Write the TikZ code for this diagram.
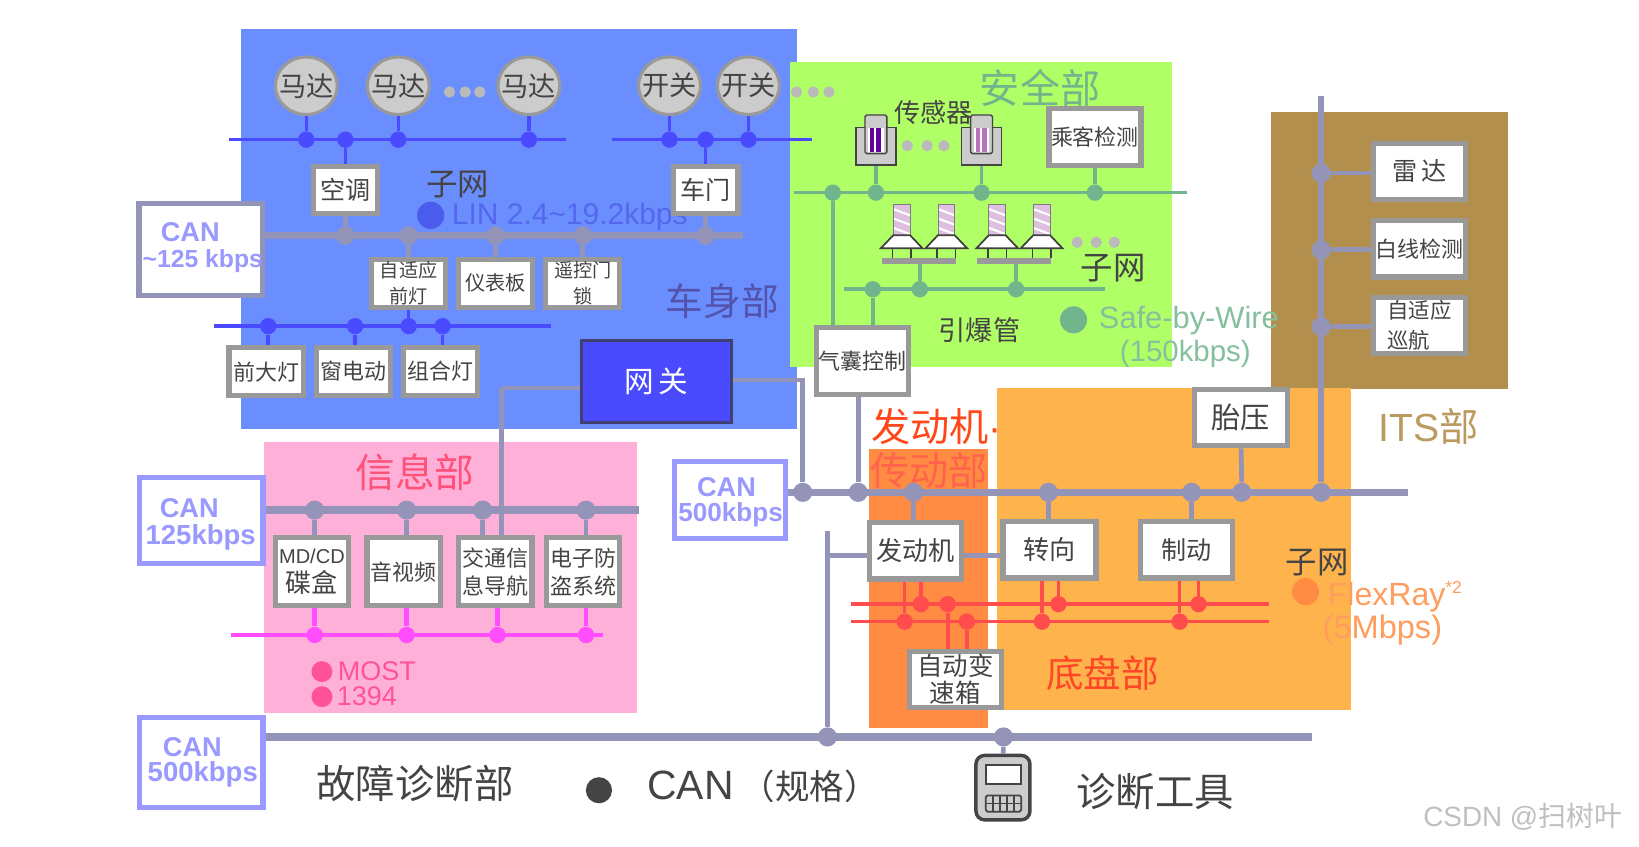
\documentclass[tikz,border=0pt]{standalone}
\usepackage{fontspec}
\setmainfont{Noto Sans CJK SC}
\newfontfamily\latfont{Liberation Sans}
\usetikzlibrary{shapes.geometric}
\definecolor{bodyblue}{HTML}{6B8EFF}
\definecolor{safegreen}{HTML}{B0FF66}
\definecolor{itsbrown}{HTML}{B38F4D}
\definecolor{chassisor}{HTML}{FFB34D}
\definecolor{engineor}{HTML}{FF8C42}
\definecolor{infopink}{HTML}{FFB0D8}
\definecolor{canline}{HTML}{9494B8}
\definecolor{canblue}{HTML}{9999FF}
\definecolor{linline}{HTML}{4A4AFF}
\definecolor{greenline}{HTML}{70B58C}
\definecolor{redline}{HTML}{FF4D4D}
\definecolor{pinkline}{HTML}{FF4DFF}
\definecolor{boxgray}{HTML}{999999}
\definecolor{txtgray}{HTML}{444444}
\newcommand\fsz[2]{\fontsize{#1pt}{#2pt}\selectfont}
\newcommand\narrowtxt[1]{\makebox[0pt]{#1}}
\tikzset{
  zone/.style={fill=#1, draw=none},
  lbl/.style={inner sep=0pt, align=center, text=txtgray},
  box/.style 2 args={draw=boxgray, fill=white, line width=3pt, inner sep=0pt, align=center, text=txtgray,
    minimum width=#1*0.6pt, minimum height=#2*0.6pt},
  canbox/.style 2 args={draw=canline, fill=white, line width=3pt, minimum width=#1*0.6pt, minimum height=#2*0.6pt, inner sep=0pt},
  roundnode/.style={ellipse, draw=boxgray, fill=black!20, line width=1.8pt, minimum width=35.5pt, minimum height=33pt, inner sep=0pt, text=txtgray, font=\fsz{15.6}{18}},
  dotnode/.style={circle, fill=#1, inner sep=0pt, minimum size=9.4pt},
  pausedot/.style={circle, fill=black!27, inner sep=0pt, minimum size=6.5pt},
  canbus/.style={draw=canline, line width=4.2pt},
  canstub/.style={draw=canline, line width=2.7pt},
  linbus/.style={draw=linline, line width=2pt},
  greenbus/.style={draw=greenline, line width=2pt},
  redbus/.style={draw=redline, line width=2pt},
  pinkbus/.style={draw=pinkline, line width=2.6pt},
  cantxt/.style={inner sep=0pt, text=canblue, font=\latfont\bfseries\fsz{15.6}{18}},
  keytxt/.style={inner sep=0pt, anchor=west, font=\latfont\fsz{#1}{#1}},
}
\begin{document}
\begin{tikzpicture}[x=0.6pt,y=-0.6pt]
\useasboundingbox (0,0) rectangle (1568,810.3);
% zones
\fill[zone=bodyblue] (231,28) rectangle (762,410);
\fill[zone=safegreen] (756,59) rectangle (1121,351);
\fill[zone=itsbrown] (1216,107) rectangle (1443,372);
\fill[zone=chassisor] (954,371) rectangle (1292,679);
\fill[zone=engineor] (831,430) rectangle (945,696);
\fill[zone=infopink] (252.5,422.5) rectangle (609,682);

% zone labels
\node[lbl, text=black!0!blue!35!gray, font=\fsz{21.6}{24}] (lblbody) at (691,288) {车身部};
\node[lbl, text=greenline, font=\fsz{23}{25}] (lblsafe) at (995,84) {安全部};
\node[lbl, text=itsbrown!90!white, font=\latfont\fsz{22.5}{24}] (lblits) at (1367,408) {ITS\fontspec{Noto Sans CJK SC}部};
\node[lbl, anchor=west, text=red!60!orange!90!white, font=\fsz{22.5}{25}] (lblengine) at (833,408) {发动机{\latfont·}};
\node[lbl, text=red!75!orange!70!white, font=\fsz{22.5}{25}] (lbldrive) at (889,450) {传动部};
\node[lbl, text=red!70!orange!85!white, font=\fsz{21.6}{24}] (lblchassis) at (1055,644) {底盘部};
\node[lbl, text=pinkline!30!red!75!white, font=\fsz{22.8}{25}] (lblinfo) at (397,452) {信息部};
\node[lbl, font=\fsz{18}{20}] (lblsuba) at (438,177) {子网};
\node[lbl, font=\fsz{18.6}{20}] (lblsubb) at (1065,256.5) {子网};
\node[lbl, font=\fsz{18}{20}] (lblsubc) at (1260,538) {子网};
\node[lbl, font=\fsz{15.6}{18}] (lblsquib) at (937,316) {引爆管};
\node[lbl, font=\fsz{15}{18}] (lblsensor) at (893,108) {传感器};

% legend dots and texts
\node[dotnode=blue!40!bodyblue!85!gray, minimum size=15.6pt] (dotlin) at (412,206) {};
\node[keytxt=17.2, text=blue!30!bodyblue!85!gray] (txtlin) at (432,207) {LIN 2.4\textasciitilde19.2kbps};
\node[dotnode=greenline, minimum size=15.6pt] (dotsafe) at (1027,306) {};
\node[keytxt=17.7, text=greenline!85!white] (txtsafe) at (1051,307) {Safe-by-Wire};
\node[keytxt=16.9, text=greenline!85!white] (txtrate) at (1071,339) {(150kbps)};
\node[dotnode=engineor, minimum size=15.6pt] (dotflex) at (1249,566) {};
\node[keytxt=18.4, text=engineor!85!white] (txtflex) at (1270,571) {FlexRay\raisebox{7pt}{\fsz{10}{10}*2}};
\node[keytxt=18.7, text=engineor!85!white] (txtmbps) at (1265,603) {(5Mbps)};
\node[dotnode=red!50!pinkline!80!white, minimum size=12pt] (dotmost) at (308,642.5) {};
\node[keytxt=15.5, text=red!50!pinkline!80!white] (txtmost) at (323,642.5) {MOST};
\node[dotnode=red!50!pinkline!80!white, minimum size=12pt] (dotieee) at (308,666.5) {};
\node[keytxt=15.5, text=red!50!pinkline!80!white] (txtieee) at (322,666.5) {1394};

% body zone: motors and switches
\node[roundnode] (mota) at (293,82) {\narrowtxt{马达}};
\node[roundnode] (motb) at (381,82) {\narrowtxt{马达}};
\node[roundnode] (motc) at (506,82) {\narrowtxt{马达}};
\node[roundnode] (swa) at (640.5,82) {\narrowtxt{开关}};
\node[roundnode] (swb) at (716,82) {\narrowtxt{开关}};
\foreach \n/\x in {pa1/430,pa2/445,pa3/459,pb1/762,pb2/778,pb3/793}
  \node[pausedot] (\n) at (\x,88) {};

\coordinate (lina) at (219,133.6);
\coordinate (linb) at (541,133.6);
\coordinate (linc) at (585,133.6);
\coordinate (lind) at (777,133.6);
\draw[linbus] (lina) -- (linb);
\draw[linbus] (linc) -- (lind);
\foreach \n/\x in {ja1/293,ja2/330.5,ja3/381,ja4/506,jb1/640.5,jb2/675,jb3/716}
  \node[dotnode=linline] (\n) at (\x,133.6) {};
\foreach \a/\b in {mota/ja1,motb/ja3,motc/ja4,swa/jb1,swb/jb3}
  \draw[linbus] (\a) -- (\b);

\node[box={61}{45}, font=\fsz{14.4}{16}] (aircon) at (330.5,182) {空调};
\node[box={62}{45}, font=\fsz{14.4}{16}] (door) at (675,182) {车门};
\draw[linbus] (ja2) -- (aircon);
\draw[linbus] (jb2) -- (door);

% body zone: CAN
\node[canbox={118}{88}] (canbody) at (192,238.5) {};
\node[cantxt] (cantxta) at (182,222) {CAN};
\node[cantxt, font=\latfont\bfseries\fsz{14.2}{16}] (cantxtb) at (194,250) {\textasciitilde125 kbps};
\coordinate (bodyend) at (711,225.4);
\draw[canbus] (canbody.east |- bodyend) -- (bodyend);
\foreach \n/\x in {jc1/330.5,jc2/391,jc3/474,jc4/557.5,jc5/675}
  \node[dotnode=canline, minimum size=10.6pt] (\n) at (\x,225.4) {};
\node[box={71}{46}, font=\fsz{11}{15}] (lamp) at (391,271) {自适应\\前灯};
\node[box={71}{46}, font=\fsz{11.6}{15}] (panel) at (474,271) {仪表板};
\node[box={71}{46}, font=\fsz{11}{15}] (lock) at (557.5,271) {遥控门\\锁};
\foreach \a/\b in {aircon/jc1,door/jc5,lamp/jc2,panel/jc3,lock/jc4}
  \draw[canstub] (\a) -- (\b);

\coordinate (line) at (205,312);
\coordinate (linf) at (527,312);
\draw[linbus] (line) -- (linf);
\foreach \n/\x in {jd1/256.6,jd2/339.7,jd3/391,jd4/423.4}
  \node[dotnode=linline] (\n) at (\x,312) {};
\node[box={71}{46}, font=\fsz{12.6}{15}] (headl) at (254.5,355.5) {前大灯};
\node[box={71}{46}, font=\fsz{12.6}{15}] (window) at (338,355.5) {窗电动};
\node[box={71}{46}, font=\fsz{12.6}{15}] (combo) at (421.5,355.5) {组合灯};
\draw[linbus] (lamp) -- (jd3);
\draw[linbus] (jd1) -- (headl.north -| jd1);
\draw[linbus] (jd2) -- (window.north -| jd2);
\draw[linbus] (jd4) -- (combo.north -| jd4);

% safety zone
\coordinate (grna) at (760,184.3);
\coordinate (grnb) at (1135.6,184.3);
\coordinate (grnc) at (807.6,276.7);
\coordinate (grnd) at (1056.7,276.7);
\draw[greenbus] (grna) -- (grnb);
\draw[greenbus] (grnc) -- (grnd);
\foreach \n/\x in {jg1/796.7,jg2/838,jg3/939,jg4/1047.5}
  \node[dotnode=greenline] (\n) at (\x,184.3) {};
\foreach \n/\x in {jh1/835,jh2/880,jh3/972}
  \node[dotnode=greenline] (\n) at (\x,276.7) {};
\node[box={88}{54}, font=\fsz{12.6}{15}] (occup) at (1047.5,131) {乘客检测};
\draw[greenbus] (occup) -- (jg4);
% sensors
\node[draw=txtgray, fill=black!20, line width=1pt, minimum width=23pt, minimum height=21.5pt, inner sep=0pt] (sensa) at (838,140) {};
\node[draw=txtgray, fill=black!20, line width=1pt, minimum width=23pt, minimum height=21.5pt, inner sep=0pt] (sensb) at (939,140) {};
\draw[greenbus] (sensa) -- (jg2);
\draw[greenbus] (sensb) -- (jg3);
\foreach \sx/\pur in {838/violet!75!blue,939/violet!55!white}{
  \draw[txtgray, fill=black!20, line width=0.8pt, rounded corners=1pt] (\sx-10.5,110) rectangle (\sx+10.5,147);
  \fill[white] (\sx-7.5,122.5) rectangle (\sx+7.5,145.5);
  \fill[\pur] (\sx-5.5,122.5) rectangle (\sx+5,145.5);
  \fill[white] (\sx-1.5,122.5) rectangle (\sx+0.5,145.5);
}
\foreach \n/\x in {pc1/868,pc2/887,pc3/903}
  \node[pausedot] (\n) at (\x,139.4) {};
% squibs
\foreach \sx in {862.6,905.3,954,996.5}{
  \fill[violet!25!white] (\sx-8,196) rectangle (\sx+8,225);
  \foreach \k in {0,1,2}
    \draw[white, line width=1.2pt] (\sx-8,200+\k*9) -- (\sx+8,206+\k*9);
  \draw[txtgray!70, line width=0.5pt] (\sx-8,196) rectangle (\sx+8,225);
  \draw[black!75, fill=white, line width=1pt] (\sx-8,225) -- (\sx+8,225) -- (\sx+20,237.6) -- (\sx-20,237.6) -- cycle;
  \draw[black!75, line width=0.8pt] (\sx-9,237.6) -- (\sx-9,247) (\sx+9,237.6) -- (\sx+9,247);
}
\node[fill=boxgray, inner sep=0pt, minimum width=42.4pt, minimum height=3.4pt] (bara) at (879,249.5) {};
\node[fill=boxgray, inner sep=0pt, minimum width=42.4pt, minimum height=3.4pt] (barb) at (970,249.5) {};
\draw[greenbus] (bara.south -| jh2) -- (jh2);
\draw[greenbus] (barb.south -| jh3) -- (jh3);
\foreach \n/\x in {pd1/1030.5,pd2/1048.8,pd3/1066}
  \node[pausedot] (\n) at (\x,231.8) {};
\node[box={88}{64}, font=\fsz{12.6}{15}] (airbag) at (825,345.5) {气囊控制};
\draw[greenbus] (jg1) -- (airbag.north -| jg1);
\draw[greenbus] (jh1) -- (airbag.north -| jh1);

% main CAN 500k
\node[canbox={106}{74}, draw=canblue] (canmain) at (698.5,478.5) {};
\node[cantxt] (cantxtc) at (695,466) {CAN};
\node[cantxt, font=\latfont\bfseries\fsz{15}{17}] (cantxtd) at (699,492) {500kbps};
\coordinate (mainend) at (1347,471);
\draw[canbus] (canmain.east |- mainend) -- (mainend);
\foreach \n/\x in {jm1/768,jm2/821,jm3/874,jm4/1003,jm5/1140,jm6/1188,jm7/1264}
  \node[dotnode=canline, minimum size=11pt] (\n) at (\x,471) {};
\node[box={89}{54}, font=\fsz{16.8}{18}] (tire) at (1187,399.5) {胎压};
\draw[canstub] (tire) -- (jm6);
\draw[canstub] (airbag.south -| jm2) -- (jm2);

% gateway
\node[draw=black!60!blue!50!gray, fill=linline, line width=1.6pt, text=white, minimum width=86pt, minimum height=47pt, inner sep=0pt, font=\fsz{17}{18}] (gate) at (628,365) {网\,关};
\coordinate (gatel) at (480,371.3);
\coordinate (gater) at (768,363.6);
\draw[canstub] (gate.west |- gatel) -- (gatel);
\draw[canstub] (gate.east |- gater) -- (gater) -- (jm1);

% ITS zone
\coordinate (itstop) at (1264,92);
\draw[canbus, line width=3.6pt] (itstop) -- (jm7);
\foreach \n/\y in {ji1/165.6,ji2/239,ji3/312.5}
  \node[dotnode=canline, minimum size=11pt] (\n) at (1264,\y) {};
\node[box={88}{54}, font=\fsz{14.4}{16}] (radar) at (1358,164) {雷\,达};
\node[box={88}{54}, font=\fsz{12.6}{15}] (lanedet) at (1358,238) {白线检测};
\node[box={88}{54}, font=\fsz{12.3}{17}, align=left] (acc) at (1358,311.5) {自适应\\巡航};
\draw[canstub] (ji1) -- (radar.west |- ji1);
\draw[canstub] (ji2) -- (lanedet.west |- ji2);
\draw[canstub] (ji3) -- (acc.west |- ji3);

% power train and chassis
\node[box={88}{54}, font=\fsz{15}{17}] (engine) at (876,527) {发动机};
\node[box={89}{54}, font=\fsz{15}{17}] (steer) at (1004,526) {转向};
\node[box={88}{54}, font=\fsz{14.4}{17}] (brake) at (1135,526) {制动};
\node[box={88}{53}, font=\fsz{14.6}{15.7}] (gearbox) at (914,650) {自动变\\速箱};
\draw[canstub] (jm3) -- (engine.north -| jm3);
\draw[canstub] (jm4) -- (steer.north -| jm4);
\draw[canstub] (jm5) -- (brake.north -| jm5);
\coordinate (diagstub) at (791.6,508);
\coordinate (diagturn) at (791.6,531.5);
\draw[canstub] (diagturn) -- (engine.west |- diagturn);
\draw[canstub] (engine.east |- diagturn) -- (steer.west |- diagturn);

\coordinate (reda) at (814.5,578);
\coordinate (redb) at (1214,578);
\coordinate (redc) at (814.5,594.7);
\coordinate (redd) at (1214,594.7);
\draw[redbus] (reda) -- (redb);
\draw[redbus] (redc) -- (redd);
\foreach \n/\x in {jr1/881,jr2/906.7,jr3/1012.6,jr4/1146.6}
  \node[dotnode=redline] (\n) at (\x,578) {};
\foreach \n/\x in {js1/865.5,js2/925,js3/996.8,js4/1128.6}
  \node[dotnode=redline] (\n) at (\x,594.7) {};
\draw[redbus] (engine.south -| jr1) -- (jr1);
\draw[redbus] (engine.south -| js1) -- (js1);
\draw[redbus] (steer.south -| jr3) -- (jr3);
\draw[redbus] (steer.south -| js3) -- (js3);
\draw[redbus] (brake.south -| jr4) -- (jr4);
\draw[redbus] (brake.south -| js4) -- (js4);
\draw[redbus] (jr2) -- (gearbox.north -| jr2);
\draw[redbus] (js2) -- (gearbox.north -| js2);

% info zone
\node[canbox={118}{82}, draw=canblue] (caninfo) at (192.7,498) {};
\node[cantxt] (cantxte) at (181,486) {CAN};
\node[cantxt, font=\latfont\bfseries\fsz{15.8}{18}] (cantxtf) at (192,514) {125kbps};
\coordinate (infoend) at (611,488);
\draw[canbus] (caninfo.east |- infoend) -- (infoend);
\foreach \n/\x in {jn1/301,jn2/389,jn3/461.8,jn4/560.6}
  \node[dotnode=canline, minimum size=11pt] (\n) at (\x,488) {};
\node[box={70}{65}, font=\fsz{15}{16.6}] (mdcd) at (298.4,547) {{\latfont\fsz{11.5}{16.6}MD/CD}\\碟盒};
\node[box={70}{65}, font=\fsz{12.6}{16}] (avunit) at (386.2,547) {音视频};
\node[box={70}{65}, font=\fsz{12.6}{16}] (nav) at (474,547) {交通信\\息导航};
\node[box={70}{65}, font=\fsz{12.6}{16}] (theft) at (558,547) {电子防\\盗系统};
\draw[canstub] (jn1) -- (mdcd.north -| jn1);
\draw[canstub] (jn2) -- (avunit.north -| jn2);
\draw[canstub] (jn3) -- (nav.north -| jn3);
\draw[canstub] (jn4) -- (theft.north -| jn4);
\draw[canstub] (gatel) -- (nav.north -| gatel);
\coordinate (pinka) at (220.6,607.5);
\coordinate (pinkb) at (577,607.5);
\draw[pinkbus] (pinka) -- (pinkb);
\foreach \n/\x in {jp1/301,jp2/389,jp3/476,jp4/560.6}
  \node[dotnode=pinkline] (\n) at (\x,607.5) {};
\draw[pinkbus] (mdcd.south -| jp1) -- (jp1);
\draw[pinkbus] (avunit.south -| jp2) -- (jp2);
\draw[pinkbus] (nav.south -| jp3) -- (jp3);
\draw[pinkbus] (theft.south -| jp4) -- (jp4);

% diagnostics
\node[canbox={118}{86}, draw=canblue] (candiag) at (192.7,729.5) {};
\node[cantxt] (cantxtg) at (184,715) {CAN};
\node[cantxt, font=\latfont\bfseries\fsz{15.8}{17}] (cantxth) at (194,741) {500kbps};
\coordinate (diagend) at (1255,705);
\draw[canbus] (candiag.east |- diagend) -- (diagend);
\node[dotnode=canline, minimum size=11pt] (jt1) at (791.6,705) {};
\node[dotnode=canline, minimum size=11pt] (jt2) at (960,705) {};
\draw[canstub] (diagstub) -- (jt1);
\node[draw=txtgray, fill=black!20, line width=2pt, rounded corners=5pt, minimum width=31pt, minimum height=37pt, inner sep=0pt] (tool) at (959.5,753.5) {};
\draw[canstub] (jt2) -- (tool);
\draw[txtgray, fill=white, line width=1.2pt] (943.5,732) rectangle (976.5,750);
\draw[txtgray, fill=black!20, line width=1pt, rounded corners=1pt] (943,761) rectangle (977,776.5);
\foreach \gx in {949.8,956.6,963.4,970.2}
  \draw[txtgray, line width=0.8pt] (\gx,761) -- (\gx,776.5);
\draw[txtgray, line width=0.8pt] (943,768.7) -- (977,768.7);
\node[lbl, font=\fsz{22.6}{24}] (lbldiag) at (397,750) {故障诊断部};
\node[dotnode=txtgray, minimum size=15pt] (dotcan) at (573,756) {};
\node[lbl, anchor=west, font=\latfont\fsz{23.5}{24}] (txtcan) at (619,752) {CAN\hspace{4pt}{\fontspec{Noto Sans CJK SC}\fsz{19.8}{24}（规格）}};
\node[lbl, font=\fsz{22.6}{24}] (lbltool) at (1105,757) {诊断工具};
\node[lbl, text=black!25, anchor=east, font=\latfont\fsz{16}{18}] (mark) at (1552,781) {CSDN @{\fontspec{Noto Sans CJK SC}扫树叶}};
\end{tikzpicture}
\end{document}
